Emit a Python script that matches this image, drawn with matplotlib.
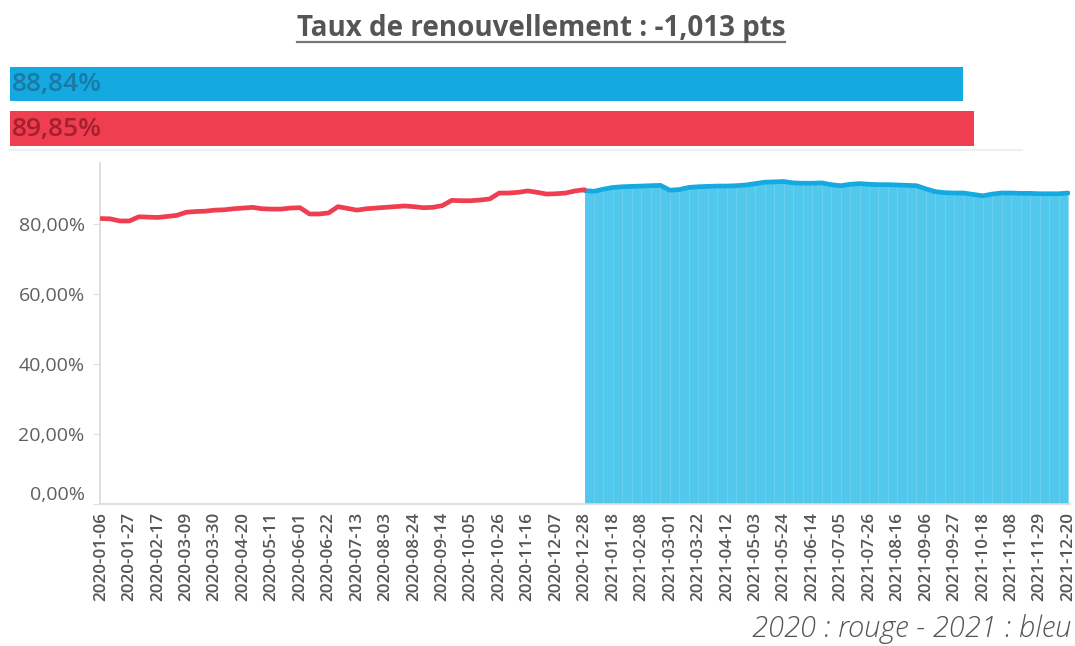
import matplotlib
matplotlib.use("Agg")
import matplotlib.pyplot as plt
import matplotlib.transforms as mtransforms
from matplotlib.lines import Line2D
import numpy as np

W, H = 1075, 646

title = "Taux de renouvellement : -1,013 pts"
caption = "2020 : rouge - 2021 : bleu"

summary_labels = ["88,84%", "89,85%"]
summary_values = [88.84, 89.85]
summary_colors = ["#14a9e0", "#ef3e4f"]
summary_text_colors = ["#1a7aa6", "#a3202e"]

tick_labels = [
    "2020-01-06", "2020-01-27", "2020-02-17", "2020-03-09", "2020-03-30",
    "2020-04-20", "2020-05-11", "2020-06-01", "2020-06-22", "2020-07-13",
    "2020-08-03", "2020-08-24", "2020-09-14", "2020-10-05", "2020-10-26",
    "2020-11-16", "2020-12-07", "2020-12-28", "2021-01-18", "2021-02-08",
    "2021-03-01", "2021-03-22", "2021-04-12", "2021-05-03", "2021-05-24",
    "2021-06-14", "2021-07-05", "2021-07-26", "2021-08-16", "2021-09-06",
    "2021-09-27", "2021-10-18", "2021-11-08", "2021-11-29", "2021-12-20",
]
n_weeks = 103  # weekly categories 2020-01-06 .. 2021-12-20

# 2020 series (red): weeks 0..51
red_2020 = [
    81.6, 81.5, 80.9, 80.9, 82.1, 82.0, 81.9, 82.2, 82.5, 83.4,
    83.6, 83.7, 84.0, 84.1, 84.4, 84.6, 84.8, 84.4, 84.3, 84.3,
    84.6, 84.7, 82.9, 82.9, 83.2, 85.0, 84.5, 84.0, 84.4, 84.6,
    84.8, 85.0, 85.2, 85.0, 84.7, 84.8, 85.3, 86.8, 86.7, 86.7,
    86.9, 87.2, 88.9, 88.9, 89.1, 89.5, 89.1, 88.6, 88.7, 88.9,
    89.5, 89.85,
]
# 2021 series (blue): weeks 51..102
blue_2021 = [
    89.6, 89.4, 90.0, 90.5, 90.7, 90.8, 90.9, 91.0, 91.1, 89.7,
    89.9, 90.5, 90.7, 90.8, 90.9, 90.9, 91.0, 91.2, 91.6, 92.0,
    92.1, 92.2, 91.8, 91.7, 91.7, 91.8, 91.3, 91.0, 91.4, 91.6,
    91.4, 91.3, 91.3, 91.2, 91.1, 91.0, 90.1, 89.3, 89.0, 88.9,
    88.9, 88.5, 88.1, 88.6, 88.9, 88.9, 88.8, 88.8, 88.7, 88.7,
    88.7, 88.9,
]

FONT = "Open Sans"
plt.rcParams["font.family"] = [FONT, "DejaVu Sans"]


def fx(px):
    return px / W


def fy(py):
    return 1 - py / H


fig = plt.figure(figsize=(W / 100, H / 100), dpi=100)
fig.patch.set_facecolor("white")

# ---- title with underline ----
t = fig.text(fx(541), fy(28.5), title, ha="center", va="center",
             fontsize=20, fontweight="bold", color="#555555")

# ---- summary bars ----
axb = fig.add_axes([fx(10), fy(152), fx(1065), (152 - 62) / H])
ybar = np.arange(len(summary_values))
axb.barh(ybar, summary_values, height=0.775, color=summary_colors,
         edgecolor="none")
for yi, lab, tc in zip(ybar, summary_labels, summary_text_colors):
    axb.text(0.2, yi + 0.02, lab, ha="left", va="center", fontsize=19,
             fontweight="semibold", color=tc)
axb.set_xlim(0, 99.25)
axb.set_ylim(1.528, -0.494)
axb.axis("off")
fig.add_artist(Line2D([fx(10), fx(1022)], [fy(150), fy(150)],
                      color="#eeeeee", lw=1.5))

# ---- main chart ----
ax = fig.add_axes([fx(100), fy(503.5), fx(970), (503.5 - 163) / H])
x_all = np.arange(n_weeks)
red_x = x_all[:len(red_2020)]
blue_x = x_all[len(red_2020) - 1:len(red_2020) - 1 + len(blue_2021)]

ax.fill_between(blue_x, 0, blue_2021, color="#53c8ed", lw=0, zorder=1)
ax.vlines(blue_x[1:-1], 0, blue_2021[1:-1], color="#7bd5f2", lw=0.7,
          alpha=0.6, zorder=1.5)
ax.plot(blue_x, blue_2021, color="#14a9e0", lw=3.4, zorder=3,
        solid_capstyle="round", solid_joinstyle="round")
ax.plot(red_x, red_2020, color="#ef3e4f", lw=3.4, zorder=4,
        solid_capstyle="round", solid_joinstyle="round")

ax.set_xlim(-0.1, 102.2)
ax.set_ylim(0, 97.5)
for s in ("top", "right"):
    ax.spines[s].set_visible(False)
for s in ("left", "bottom"):
    ax.spines[s].set_color("#d9d9d9")
    ax.spines[s].set_linewidth(1.2)

yt = [0, 20, 40, 60, 80]
ax.set_yticks(yt)
ax.set_yticklabels([f"{v},00%" for v in yt])
ax.tick_params(axis="y", length=5, color="#e0e0e0", labelsize=14,
               labelcolor="#606060", pad=6)
xt = list(range(0, n_weeks, 3))
ax.set_xticks(xt)
ax.set_xticklabels(tick_labels, rotation=90)
ax.tick_params(axis="x", length=0, labelsize=12.3, labelcolor="#555555", pad=6)
for lab in ax.get_xticklabels():
    lab.set_fontweight("semibold")

lbl0 = ax.get_yticklabels()[0]
lbl0.set_transform(lbl0.get_transform() +
                   mtransforms.ScaledTranslation(0, 0.11, fig.dpi_scale_trans))

# ---- caption ----
fig.text(fx(1071), fy(629), caption, ha="right", va="center",
         fontsize=21, style="italic", fontweight="light", color="#555555")

# underline for title
fig.canvas.draw()
bb = t.get_window_extent()
yline = bb.y0 + 1
fig.add_artist(Line2D([bb.x0 / W, bb.x1 / W], [yline / H, yline / H],
                      color="#777777", lw=1.6))

fig.savefig("out.png", dpi=100)
